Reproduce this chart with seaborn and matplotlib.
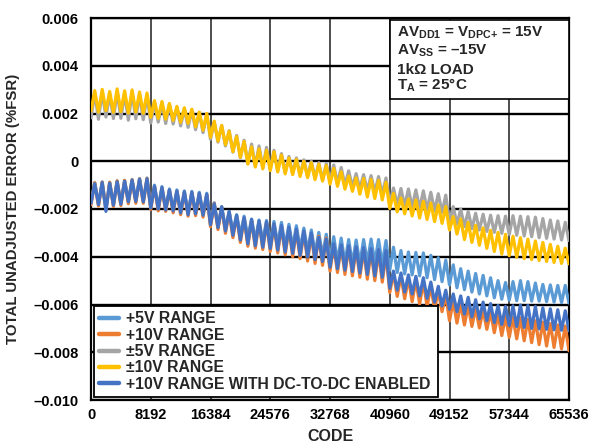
import numpy as np
import pandas as pd
import matplotlib
matplotlib.use("Agg")
import matplotlib.pyplot as plt
import seaborn as sns
from matplotlib.patches import Rectangle
from matplotlib.lines import Line2D

# ---------------- data (values in units of 0.0001 %FSR) ----------------
UNIT = 1e-4
codes = list(range(0, 65537, 512))   # sample codes: trough, peak, trough, ...

x_ticks = [0, 8192, 16384, 24576, 32768, 40960, 49152, 57344, 65536]
x_tick_labels = ["0", "8192", "16384", "24576", "32768", "40960", "49152", "57344", "65536"]
y_ticks = [0.006, 0.004, 0.002, 0.0, -0.002, -0.004, -0.006, -0.008, -0.010]
y_tick_labels = ["0.006", "0.004", "0.002", "0", "–0.002", "–0.004", "–0.006", "–0.008", "–0.010"]

series_names = ["+5V RANGE", "+10V RANGE", "±5V RANGE", "±10V RANGE",
                "+10V RANGE WITH DC-TO-DC ENABLED"]
series_colors = ["#5B9BD5", "#ED7D31", "#A5A5A5", "#FFC000", "#4472C4"]

# +5V RANGE
p5_peaks = [-9.0, -8.6, -8.8, -8.2, -8.0, -7.6, -7.2, -7.0,
            -10.0, -10.6, -11.6, -12.0, -12.4, -12.6, -13.0, -13.4,
            -17.4, -19.2, -21.0, -22.4, -23.0, -24.2, -24.6, -24.8,
            -25.2, -25.6, -26.4, -27.0, -28.0, -28.8, -29.8, -30.6,
            -31.6, -32.2, -32.8, -33.0, -32.8, -32.6, -32.8, -33.2,
            -36.0, -37.4, -38.0, -38.2, -38.4, -39.4, -40.4, -41.4,
            -43.4, -45.0, -46.0, -47.0, -47.8, -48.8, -50.0, -50.8,
            -50.4, -50.0, -50.4, -51.0, -51.6, -51.8, -52.0, -52.0]
p5_troughs = [-17.2, -17.8, -19.6, -18.0, -17.6, -16.6, -16.4, -16.6,
              -19.2, -19.6, -20.0, -20.4, -21.2, -21.8, -21.6, -22.0,
              -26.0, -27.2, -28.0, -29.4, -30.8, -32.0, -33.0, -33.6,
              -34.2, -34.8, -35.6, -36.0, -36.8, -37.6, -38.6, -39.6,
              -41.2, -42.0, -42.6, -43.0, -42.8, -42.4, -42.6, -43.2,
              -45.6, -46.6, -47.2, -47.6, -48.0, -48.8, -49.6, -50.4,
              -51.8, -53.0, -53.8, -54.8, -55.6, -56.4, -57.2, -57.8,
              -58.2, -58.4, -58.4, -58.6, -58.6, -58.8, -59.0, -59.2,
              -59.4]

# +10V RANGE
p10_peaks = [-9.0, -8.8, -8.8, -8.2, -8.0, -7.8, -7.4, -7.2,
             -10.6, -11.2, -12.2, -12.6, -13.0, -13.2, -13.6, -14.0,
             -17.6, -19.2, -21.4, -23.0, -24.0, -24.8, -25.4, -25.8,
             -26.6, -27.4, -28.2, -29.0, -29.8, -30.6, -31.4, -32.2,
             -35.2, -35.6, -36.0, -36.6, -37.2, -37.6, -38.2, -38.8,
             -46.8, -48.0, -49.0, -49.8, -50.6, -52.4, -54.4, -56.0,
             -58.6, -59.6, -60.4, -61.4, -62.4, -63.2, -64.2, -65.0,
             -65.4, -65.6, -66.2, -66.8, -67.4, -68.0, -68.6, -69.0]
p10_troughs = [-18.2, -18.8, -20.4, -19.0, -18.6, -17.8, -17.6, -17.6,
               -20.2, -20.8, -21.0, -21.6, -22.4, -23.0, -22.8, -23.4,
               -27.4, -28.6, -30.2, -32.0, -34.0, -35.6, -36.4, -37.0,
               -37.8, -38.4, -39.2, -40.0, -40.8, -41.8, -42.8, -43.6,
               -46.0, -46.6, -47.4, -48.0, -48.6, -49.4, -50.0, -50.6,
               -55.0, -56.6, -57.6, -58.8, -59.8, -60.8, -61.8, -63.0,
               -66.8, -67.8, -68.6, -69.2, -69.8, -70.4, -71.8, -73.0,
               -73.8, -74.4, -75.2, -76.0, -76.8, -77.4, -78.0, -78.6,
               -79.4]

# ±5V RANGE
pm5_peaks = [28.6, 29.0, 28.2, 29.1, 28.5, 28.8, 28.0, 27.6,
             24.8, 24.4, 23.8, 22.6, 22.0, 21.4, 20.4, 19.8,
             16.5, 15.0, 12.8, 10.8, 8.8, 7.2, 6.4, 5.8,
             4.6, 3.2, 2.0, 1.4, 0.6, 0.0, -0.6, -1.0,
             -1.6, -2.6, -4.0, -5.2, -5.6, -6.0, -6.4, -7.0,
             -11.2, -11.4, -11.6, -12.0, -12.4, -13.0, -13.6, -14.2,
             -19.0, -20.0, -21.0, -21.8, -22.2, -22.6, -22.8, -23.0,
             -22.8, -23.0, -23.2, -23.4, -24.0, -24.6, -25.0, -25.6]
pm5_troughs = [18.2, 17.6, 18.5, 17.9, 18.0, 17.2, 17.8, 17.4,
               16.0, 16.4, 15.8, 15.6, 14.8, 14.2, 13.2, 12.0,
               9.2, 8.0, 6.4, 3.8, 1.4, -1.0, -2.0, -2.8,
               -3.4, -4.0, -4.8, -5.2, -5.9, -6.4, -7.2, -7.8,
               -8.4, -9.2, -10.2, -10.8, -11.6, -12.4, -13.0, -13.8,
               -17.8, -18.4, -18.8, -19.4, -19.8, -20.3, -20.8, -21.4,
               -25.4, -26.4, -27.4, -28.2, -28.8, -29.4, -29.8, -30.2,
               -30.6, -31.0, -31.3, -31.6, -32.0, -32.3, -32.6, -33.0,
               -33.2]

# ±10V RANGE
pm10_peaks = [29.6, 30.1, 29.2, 30.3, 29.5, 29.9, 29.0, 28.6,
              25.4, 25.0, 24.2, 23.0, 22.4, 21.8, 20.6, 20.0,
              16.8, 15.0, 12.6, 10.4, 8.3, 6.0, 5.2, 4.6,
              4.0, 2.6, 1.4, 0.8, 0.0, -0.6, -1.2, -1.8,
              -3.0, -4.4, -6.2, -7.0, -7.2, -7.6, -8.0, -8.8,
              -13.5, -15.4, -15.8, -16.2, -16.8, -17.5, -18.3, -19.0,
              -23.2, -24.2, -25.6, -26.8, -27.9, -28.9, -29.8, -30.6,
              -31.4, -32.0, -32.6, -33.4, -34.0, -34.8, -35.6, -36.4]
pm10_troughs = [21.0, 20.6, 21.2, 20.5, 20.8, 20.2, 20.6, 20.1,
                18.4, 18.0, 17.6, 17.1, 16.3, 15.9, 14.4, 13.0,
                10.0, 8.4, 6.9, 4.0, 1.6, -1.2, -2.4, -3.2,
                -3.9, -4.5, -5.3, -5.6, -6.4, -6.9, -7.7, -8.3,
                -9.6, -10.5, -11.7, -12.6, -13.8, -15.0, -15.6, -16.2,
                -19.8, -21.2, -22.0, -22.9, -23.8, -24.4, -25.3, -26.0,
                -28.8, -30.5, -32.8, -34.0, -35.2, -36.5, -37.8, -38.9,
                -39.6, -40.2, -40.8, -41.2, -41.6, -42.0, -42.4, -42.8,
                -43.0]

# +10V RANGE WITH DC-TO-DC ENABLED
dc_peaks = [-9.4, -9.0, -9.2, -8.6, -8.4, -8.0, -7.6, -7.4,
            -10.4, -11.0, -12.0, -12.4, -12.8, -13.0, -13.4, -13.8,
            -17.8, -19.0, -21.0, -22.6, -23.6, -24.4, -25.0, -25.4,
            -26.2, -26.8, -27.6, -28.4, -29.2, -30.0, -31.8, -32.6,
            -34.6, -35.0, -35.4, -35.8, -36.2, -36.6, -37.0, -37.4,
            -46.0, -46.8, -47.6, -48.2, -48.8, -50.6, -52.4, -54.0,
            -55.6, -56.4, -57.0, -58.0, -59.0, -59.6, -60.4, -60.8,
            -60.6, -60.2, -60.4, -60.8, -61.4, -61.8, -62.2, -62.6]
dc_troughs = [-17.6, -18.2, -21.0, -18.4, -18.0, -17.0, -16.8, -17.0,
              -19.6, -20.0, -20.4, -20.8, -21.6, -22.4, -22.0, -22.6,
              -26.6, -27.8, -29.2, -31.0, -33.0, -34.6, -35.4, -36.0,
              -36.6, -37.2, -38.0, -38.6, -39.4, -40.2, -41.2, -42.0,
              -44.4, -45.0, -45.6, -46.2, -46.8, -47.4, -48.0, -48.6,
              -53.2, -54.0, -54.8, -55.6, -56.4, -57.4, -59.0, -60.6,
              -62.0, -63.0, -64.0, -65.2, -66.0, -66.8, -67.6, -68.4,
              -68.8, -69.2, -69.6, -70.0, -70.2, -70.4, -70.6, -70.8,
              -71.0]

peak_lists = [p5_peaks, p10_peaks, pm5_peaks, pm10_peaks, dc_peaks]
trough_lists = [p5_troughs, p10_troughs, pm5_troughs, pm10_troughs, dc_troughs]


def interleave(troughs, peaks):
    vals = []
    for t, p in zip(troughs, peaks):
        vals.extend([t, p])
    vals.append(troughs[len(peaks)])
    return [v * UNIT for v in vals]


rows = []
for name, tr, pk in zip(series_names, trough_lists, peak_lists):
    vals = interleave(tr, pk)
    for c, v in zip(codes, vals):
        rows.append({"code": c, "tue": v, "series": name})
df = pd.DataFrame(rows)

# ---------------- style ----------------
sns.set_style("white")
plt.rcParams["font.family"] = ["Liberation Sans", "DejaVu Sans"]
plt.rcParams["font.weight"] = "bold"
plt.rcParams["mathtext.fontset"] = "custom"
plt.rcParams["mathtext.rm"] = "Liberation Sans:bold"
plt.rcParams["mathtext.bf"] = "Liberation Sans:bold"
plt.rcParams["mathtext.it"] = "Liberation Sans:bold"

W, H = 593, 446
fig = plt.figure(figsize=(W / 100, H / 100), dpi=100)
L, R, T, B = 91, 569, 18, 400
ax = fig.add_axes([L / W, 1 - B / H, (R - L) / W, (B - T) / H])

palette = dict(zip(series_names, series_colors))
sns.lineplot(data=df, x="code", y="tue", hue="series", hue_order=series_names,
             palette=palette, estimator=None, sort=False, linewidth=2.3,
             legend=False, ax=ax, zorder=3)

ax.set_xlim(0, 65536)
ax.set_ylim(-0.010, 0.006)
ax.set_xticks(x_ticks)
ax.set_xticklabels(x_tick_labels)
ax.set_yticks(y_ticks)
ax.set_yticklabels(y_tick_labels)
ax.tick_params(axis="both", length=0, labelsize=10.5, colors="black")
ax.tick_params(axis="x", pad=6)
ax.tick_params(axis="y", pad=9)
for lab in ax.get_xticklabels() + ax.get_yticklabels():
    lab.set_fontweight("bold")

ax.set_axisbelow(True)
ax.grid(axis="y", color="black", linewidth=1.7)
ax.grid(axis="x", color="#303030", linewidth=1.2)
for sp in ax.spines.values():
    sp.set_color("black")
    sp.set_linewidth(1.6)

ax.set_xlabel("CODE", fontsize=11.5, fontweight="bold")
ax.set_ylabel("TOTAL UNADJUSTED ERROR (%FSR)", fontsize=10.8, fontweight="bold")
ax.xaxis.set_label_coords(0.5, -0.075)
ax.yaxis.set_label_coords(-0.148, 0.5)

# legend
handles = [Line2D([0], [0], color=c, lw=3.2) for c in series_colors]
leg = ax.legend(handles, series_names, loc="lower left",
                bbox_to_anchor=(3 / 478, 3 / 382, 344 / 478, 0.2), mode="expand",
                borderaxespad=0, frameon=True, fancybox=False, edgecolor="black",
                framealpha=1, handlelength=1.25, handletextpad=0.45,
                labelspacing=0.08, borderpad=0.35, prop={"weight": "bold", "size": 11.3})
leg.get_frame().set_linewidth(1.3)
leg.set_zorder(10)

# annotation box
bx0 = (390 - L) / (R - L)
by0 = (B - 99) / (B - T)
by1 = (B - 20) / (B - T)
ax.add_patch(Rectangle((bx0, by0), 1 - bx0, by1 - by0, transform=ax.transAxes,
                       facecolor="white", edgecolor="black", linewidth=1.2, zorder=8))
ann = [r"AV$_{\mathrm{DD1}}$ = V$_{\mathrm{DPC}{+}}$ = 15V",
       r"AV$_{\mathrm{SS}}$ = –15V",
       "1kΩ LOAD",
       r"T$_{\mathrm{A}}$ = 25°C"]
base_px = [37, 55, 74, 90]
for txt, bp in zip(ann, base_px):
    ax.text((397 - L) / (R - L), (B - bp) / (B - T), txt, transform=ax.transAxes,
            ha="left", va="baseline", fontsize=11, fontweight="bold", zorder=9)

fig.savefig("out.png", dpi=100)
